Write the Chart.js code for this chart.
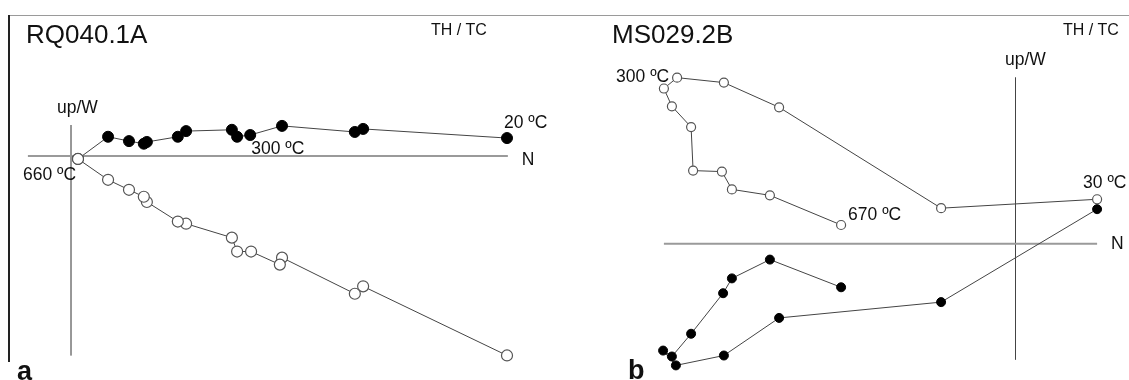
<!DOCTYPE html>
<html>
<head>
<meta charset="utf-8">
<script src="https://cdn.jsdelivr.net/npm/chart.js@4.4.1/dist/chart.umd.min.js"></script>
<style>
  html, body { margin: 0; padding: 0; background: #fff; }
  #wrap { position: relative; width: 1129px; height: 380px; overflow: hidden; background: #fff;
          font-family: "Liberation Sans", Arial, sans-serif; color: #111; }
  canvas { position: absolute; top: 0; }
  .txt { position: absolute; white-space: nowrap; }
  .title { font-size: 26px; line-height: 26px; }
  .thtc { font-size: 16px; line-height: 16px; }
  .letter { font-size: 27px; line-height: 26px; font-weight: bold; }
</style>
</head>
<body>
<div id="wrap">
  <div style="position:absolute;left:9px;top:15px;width:1120px;height:1px;background:#9a9a9a;"></div>
  <div style="position:absolute;left:8px;top:15px;width:2px;height:347px;background:#222;"></div>
  <canvas id="cA" width="564" height="380" style="left:0px;"></canvas>
  <canvas id="cB" width="565" height="380" style="left:564px;"></canvas>
  <div class="txt title" style="left:26px;top:21px;">RQ040.1A</div>
  <div class="txt thtc" style="left:431px;top:22px;">TH / TC</div>
  <div class="txt title" style="left:612px;top:21px;">MS029.2B</div>
  <div class="txt thtc" style="left:1063px;top:22px;">TH / TC</div>
  <div class="txt letter" style="left:17px;top:358px;">a</div>
  <div class="txt letter" style="left:628px;top:357px;">b</div>
</div>
<script>
// ---------- Panel a: RQ040.1A ----------
const A_FILLED_N  = [100.0, 67.0, 65.1, 48.4, 41.1, 38.1, 36.9, 26.4, 24.5, 17.4, 16.7, 13.3, 8.5, 1.6];
const A_FILLED_W  = [4.1, 6.2, 5.5, 6.9, 4.8, 4.4, 6.0, 5.7, 4.4, 3.2, 2.8, 3.4, 4.4, -0.7];
const A_OPEN_N    = [100.0, 67.0, 65.1, 48.4, 47.9, 41.3, 38.1, 36.9, 26.4, 24.5, 17.4, 16.7, 13.3, 8.5, 1.6];
const A_OPEN_UP   = [-45.9, -30.0, -31.7, -23.4, -25.0, -22.0, -22.0, -18.8, -15.6, -15.1, -10.6, -9.4, -7.8, -5.5, -0.7];
const A_AXIS_N    = [-9.9, 100.2];
const A_AXIS_UP   = [7.1, -45.9];

// ---------- Panel b: MS029.2B ----------
const B_OPEN_N    = [20.4, -18.6, -59.1, -72.9, -84.6, -87.9, -85.9, -81.1, -80.6, -73.4, -70.9, -61.4, -43.6];
const B_OPEN_UP   = [11.25, 9.0, 34.5, 40.75, 42.0, 39.25, 34.75, 29.5, 18.5, 18.25, 13.75, 12.25, 4.75];
const B_FILLED_N  = [20.4, -18.6, -59.1, -72.9, -84.9, -88.1, -85.9, -81.1, -73.1, -70.9, -61.4, -43.6];
const B_FILLED_W  = [8.75, -14.75, -18.75, -28.25, -30.75, -27.0, -28.5, -22.75, -12.5, -8.75, -4.0, -11.0];
const B_AXIS_N    = [-87.9, 20.4];
const B_AXIS_UP   = [42.0, -29.25];

const pts = (xs, ys) => xs.map((x, i) => ({ x: x, y: ys[i] }));

const labelPlugin = {
  id: 'anchoredLabels',
  afterDatasetsDraw(chart, args, opts) {
    const ctx = chart.ctx;
    ctx.save();
    ctx.fillStyle = '#111';
    ctx.textBaseline = 'middle';
    ctx.textAlign = 'left';
    (opts.items || []).forEach(it => {
      ctx.font = (it.size || 17.5) + 'px "Liberation Sans", Arial, sans-serif';
      const el = chart.getDatasetMeta(it.ds).data[it.pt];
      ctx.fillText(it.text, el.x + it.dx, el.y + it.dy);
    });
    ctx.restore();
  }
};

function makeChart(id, cfg) {
  return new Chart(document.getElementById(id), {
    type: 'scatter',
    data: { datasets: [
      { data: pts(cfg.openN, cfg.openUp), showLine: true, borderColor: '#444', borderWidth: 1,
        pointRadius: cfg.r, pointBackgroundColor: '#fff', pointBorderColor: '#555', pointBorderWidth: 1.2, order: cfg.openOrder },
      { data: pts(cfg.fillN, cfg.fillW), showLine: true, borderColor: '#444', borderWidth: 1,
        pointRadius: cfg.r, pointBackgroundColor: '#000', pointBorderColor: '#000', pointBorderWidth: 1, order: cfg.fillOrder },
      { data: pts(cfg.axisN, [0, 0]), showLine: true, borderColor: '#9a9a9a', borderWidth: 2, pointRadius: 0, order: 5 },
      { data: pts([0, 0], cfg.axisUp), showLine: true, borderColor: cfg.vColor, borderWidth: 1, pointRadius: 0, order: 6 }
    ]},
    options: {
      responsive: false,
      animation: false,
      devicePixelRatio: 1,
      layout: { padding: cfg.padding },
      scales: {
        x: { type: 'linear', min: cfg.xr[0], max: cfg.xr[1], display: false },
        y: { type: 'linear', min: cfg.yr[0], max: cfg.yr[1], display: false }
      },
      plugins: { legend: { display: false }, tooltip: { enabled: false }, anchoredLabels: { items: cfg.labels } },
      elements: { line: { tension: 0 } }
    },
    plugins: [labelPlugin]
  });
}

makeChart('cA', {
  openN: A_OPEN_N, openUp: A_OPEN_UP, fillN: A_FILLED_N, fillW: A_FILLED_W,
  axisN: A_AXIS_N, axisUp: A_AXIS_UP, r: 5.5, openOrder: 0, fillOrder: 1, vColor: '#8a8a8a',
  padding: { left: 27.4, right: 13.4, top: 112.4, bottom: 6 },
  xr: [-10, 110], yr: [-50, 10],
  labels: [
    { text: '20 ºC',  ds: 1, pt: 0,  dx: -3,  dy: -15 },
    { text: '300 ºC', ds: 1, pt: 4,  dx: 1,   dy: 14 },
    { text: '660 ºC', ds: 0, pt: 14, dx: -55, dy: 16 },
    { text: 'up/W',   ds: 3, pt: 0,  dx: -14, dy: -17 },
    { text: 'N',      ds: 2, pt: 1,  dx: 14,  dy: 4 }
  ]
});

makeChart('cB', {
  openN: B_OPEN_N, openUp: B_OPEN_UP, fillN: B_FILLED_N, fillW: B_FILLED_W,
  axisN: B_AXIS_N, axisUp: B_AXIS_UP, r: 4.5, openOrder: 1, fillOrder: 0, vColor: '#444',
  padding: { left: 11.5, right: 13.5, top: 46, bottom: 2 },
  xr: [-110, 25], yr: [-33, 50],
  labels: [
    { text: '300 ºC', ds: 0, pt: 4,  dx: -61, dy: 0 },
    { text: '30 ºC',  ds: 0, pt: 0,  dx: -14, dy: -16 },
    { text: '670 ºC', ds: 0, pt: 12, dx: 7,   dy: -10 },
    { text: 'up/W',   ds: 3, pt: 0,  dx: -10.5, dy: -17 },
    { text: 'N',      ds: 2, pt: 1,  dx: 14,  dy: 0 }
  ]
});
</script>
</body>
</html>
